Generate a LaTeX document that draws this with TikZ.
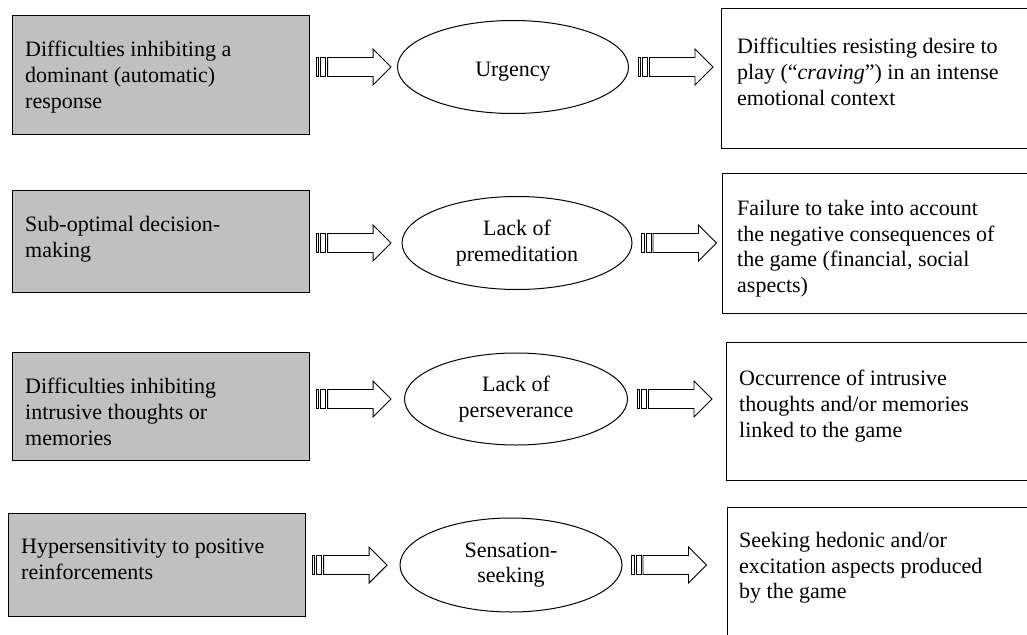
\documentclass[tikz,border=0pt]{standalone}
\usepackage{fontspec}
\setmainfont{Liberation Serif}
\usetikzlibrary{calc,shapes.geometric}
\definecolor{causegray}{RGB}{192,192,192}

\tikzset{
  causebox/.style={draw,line width=1.1pt,fill=causegray,minimum width=297pt,inner sep=0pt,anchor=north west},
  effectbox/.style={draw,line width=1.1pt,fill=white,minimum width=330pt,inner sep=0pt,anchor=north west},
  trait/.style={draw,ellipse,line width=1pt,inner sep=0pt,align=center},
  boxtext/.style={anchor=north west,inner sep=0pt,align=left},
  stripearrow/.pic={
    \draw[line width=0.9pt] (0,-9.5) rectangle (2.5,9.5);
    \draw[line width=0.9pt] (4.5,-9.5) rectangle (9.5,9.5);
    \draw[line width=0.9pt] (11.5,-9.5) -- (57,-9.5) -- (57,-18) -- (75,0)
      -- (57,18) -- (57,9.5) -- (11.5,9.5) -- cycle;
  }
}

\begin{document}
\begin{tikzpicture}[x=1pt,y=-1pt,font=\fontsize{22}{25.7}\selectfont]
  \clip (0,0) rectangle (1027,634);
  % causes
  \node[causebox,minimum height=119pt] (cause1) at (12,15) {};
  \node[causebox,minimum height=102pt] (cause2) at (12,190) {};
  \node[causebox,minimum height=108pt] (cause3) at (12,352) {};
  \node[causebox,minimum height=103pt] (cause4) at (8,513) {};
  \node[boxtext] (cause1t) at ($(cause1.north west)+(13,26)$)
    {Difficulties inhibiting a\\dominant (automatic)\\response};
  \node[boxtext] (cause2t) at ($(cause2.north west)+(13,26)$)
    {Sub-optimal decision-\\making};
  \node[boxtext] (cause3t) at ($(cause3.north west)+(13,26)$)
    {Difficulties inhibiting\\intrusive thoughts or\\memories};
  \node[boxtext] (cause4t) at ($(cause4.north west)+(13,26)$)
    {Hypersensitivity to positive\\reinforcements};
  % impulsivity facets
  \node[trait,minimum width=231pt,minimum height=93pt,text height=19pt,text depth=0pt] (urg) at (513,67) {Urgency};
  \node[trait,minimum width=230pt,minimum height=93pt] (prem) at (517,243) {Lack of\\premeditation};
  \node[trait,minimum width=223pt,minimum height=92pt] (pers) at (516,399) {Lack of\\perseverance};
  \node[trait,minimum width=222pt,minimum height=94pt] (sens) at (511,565) {Sensation-\\seeking};
  % consequences
  \node[effectbox,minimum height=140pt] (eff1) at (721,8) {};
  \node[effectbox,minimum height=140pt] (eff2) at (722,173) {};
  \node[effectbox,minimum height=138pt] (eff3) at (726,342) {};
  \node[effectbox,minimum height=160pt] (eff4) at (727,507) {};
  \node[boxtext] (eff1t) at ($(eff1.north west)+(16,30)$)
    {Difficulties resisting desire to\\play (“\textit{craving}”) in an intense\\emotional context};
  \node[boxtext] (eff2t) at ($(eff2.north west)+(15,27)$)
    {Failure to take into account\\the negative consequences of\\the game (financial, social\\aspects)};
  \node[boxtext] (eff3t) at ($(eff3.north west)+(13,28)$)
    {Occurrence of intrusive\\thoughts and/or memories\\linked to the game};
  \node[boxtext] (eff4t) at ($(eff4.north west)+(12,25)$)
    {Seeking hedonic and/or\\excitation aspects produced\\by the game};
  % arrows
  \foreach \c/\t/\e in {cause1/urg/eff1,cause2/prem/eff2,cause3/pers/eff3,cause4/sens/eff4}{
    \pic at ($(\c.east |- \t.west)+(6,0)$) {stripearrow};
    \pic at ($(\t.east)+(9,0)$) {stripearrow};
  }
\end{tikzpicture}
\end{document}
